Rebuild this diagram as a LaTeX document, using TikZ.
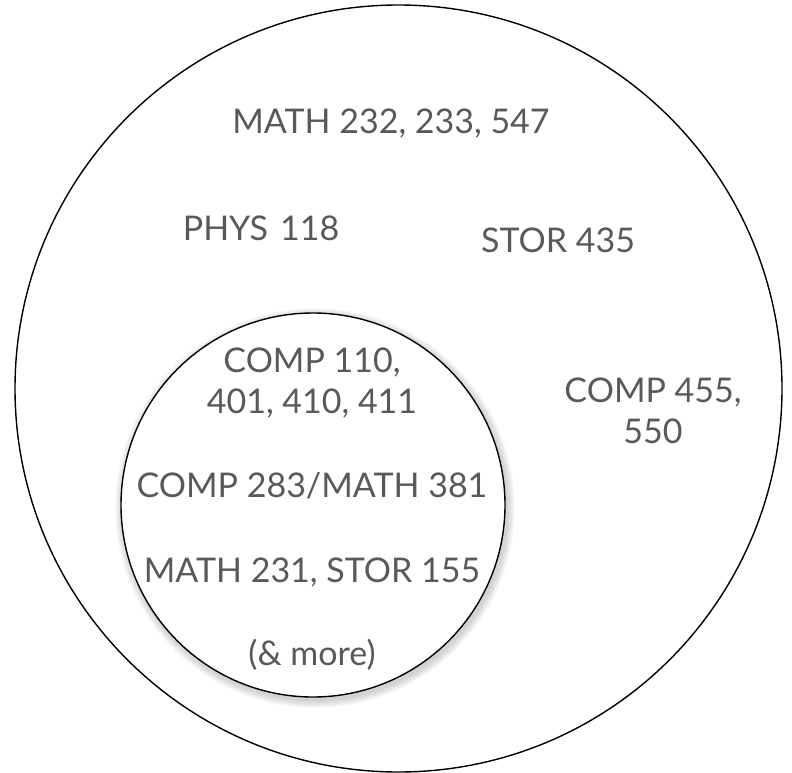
\documentclass[tikz,border=0pt]{standalone}
\usepackage{fontspec}
\setmainfont{Lato}
\definecolor{txtgray}{HTML}{595959}
\begin{document}
\begin{tikzpicture}[x=1pt,y=-1pt,
  lbl/.style={text=txtgray, font=\fontsize{34}{41}\selectfont, align=center, anchor=base, inner sep=0pt},
  ring/.style={circle, draw=black, line width=1.4pt, inner sep=0pt},
  softshade/.style={fill=black, opacity=0.025}]
\useasboundingbox (0,0) rectangle (792,773);
\node[ring, minimum size=767pt] (outer) at (398.5,388.5) {};
\coordinate (shc) at (315,508);
\foreach \r in {193,194,195,196,197,198,199,200}
  \fill[softshade] (shc) circle[radius=\r];
\node[ring, fill=white, minimum size=384pt] (inner) at (313,505) {};
\node[lbl] (math) at (391,134) {MATH 232, 233, 547};
\node[lbl] (phys) at (261,240) {PHYS\hspace{0.35em}118};
\node[lbl] (stor) at (558,252) {STOR 435};
\node[lbl] (comp1) at (312,413) {COMP 110,\\401, 410, 411};
\node[lbl] (comp455) at (653,443) {COMP 455,\\550};
\node[lbl] (comp283) at (312,497) {COMP 283/MATH 381};
\node[lbl] (math231) at (312,582) {MATH 231, STOR 155};
\node[lbl] (more) at (312,665) {(\& more)};
\end{tikzpicture}
\end{document}
